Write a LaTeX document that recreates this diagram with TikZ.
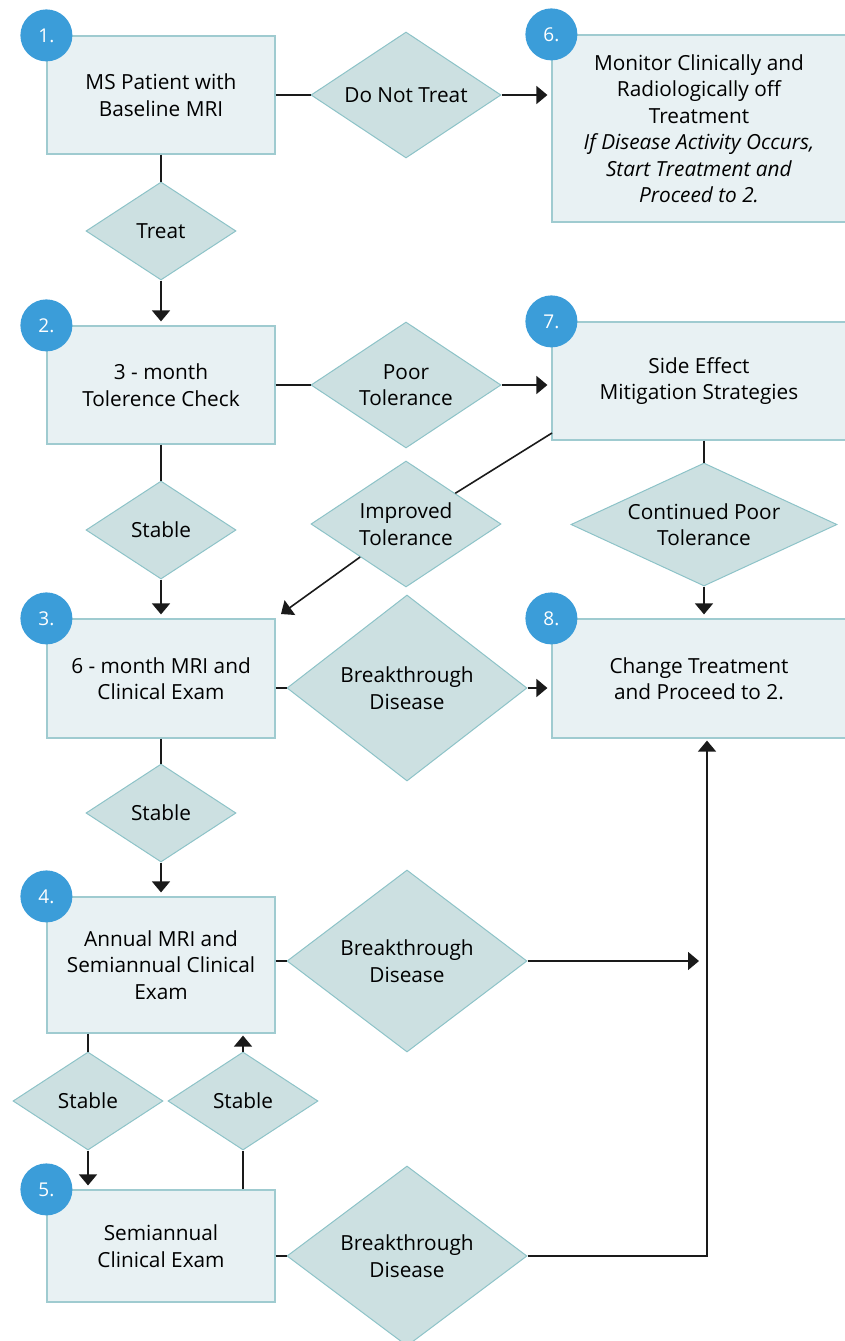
\documentclass[tikz,border=0pt]{standalone}
\usepackage{fontspec}
\setmainfont{Open Sans}
\usetikzlibrary{shapes.geometric,arrows.meta}
\definecolor{boxfill}{HTML}{E8F1F3}
\definecolor{boxline}{HTML}{9FCBD0}
\definecolor{dfill}{HTML}{CCE0E1}
\definecolor{dline}{HTML}{8DC3C8}
\definecolor{numblue}{HTML}{3B9DD9}
\definecolor{lncol}{HTML}{1A1A1A}
\tikzset{
  txt/.style={font=\fontsize{20.8}{26.5}\selectfont, align=center},
  stepbox/.style={rectangle, draw=boxline, fill=boxfill, line width=1.2pt, inner sep=0pt, minimum width=228pt, txt},
  num/.style={circle, fill=numblue, draw=none, minimum size=52pt, inner sep=0pt, text=white, font=\fontsize{19}{22}\selectfont},
  dia/.style={diamond, draw=dline, fill=dfill, line width=1pt, inner sep=0pt},
  dlab/.style={txt},
  ln/.style={draw=lncol, line width=1.6pt},
  arr/.style={ln, -{Triangle[width=18pt,length=11pt]}, shorten >=4pt},
}
\begin{document}
\begin{tikzpicture}[x=1pt,y=-1pt]
\useasboundingbox (0,0) rectangle (845,1341);
% boxes
\node[stepbox, minimum height=118pt] (b1) at (161,95) {MS Patient with\\Baseline MRI};
\node[stepbox, minimum height=118pt] (b2) at (161,385) {3 - month\\Tolerence Check};
\node[stepbox, minimum height=119pt] (b3) at (161,678.5) {6 - month MRI and\\Clinical Exam};
\node[stepbox, minimum height=136pt] (b4) at (161,965) {Annual MRI and\\Semiannual Clinical\\Exam};
\node[stepbox, minimum height=112pt] (b5) at (161,1246) {Semiannual\\Clinical Exam};
\node[stepbox, minimum width=294pt, minimum height=187pt] (b6) at (699,128.5) {Monitor Clinically and\\Radiologically off\\Treatment\\\textit{If Disease Activity Occurs,}\\\textit{Start Treatment and}\\\textit{Proceed to 2.}};
\node[stepbox, minimum width=294pt, minimum height=118pt] (b7) at (699,381) {Side Effect\\Mitigation Strategies};
\node[stepbox, minimum width=294pt, minimum height=119pt] (b8) at (699,678.5) {Change Treatment\\and Proceed to 2.};
% diamonds
\node[dia, minimum width=150pt, minimum height=98pt, label={[dlab]center:Treat}] (treat) at (161,231) {};
\node[dia, minimum width=190pt, minimum height=126pt, label={[dlab]center:Do Not Treat}] (dnt) at (406,95) {};
\node[dia, minimum width=190pt, minimum height=126pt, label={[dlab]center:Poor\\Tolerance}] (pt) at (406,385) {};
\node[dia, minimum width=150pt, minimum height=98pt, label={[dlab]center:Stable}] (s23) at (161,530) {};
\node[dia, minimum width=190pt, minimum height=126pt, label={[dlab]center:Improved\\Tolerance}] (imp) at (406,524) {};
\node[dia, minimum width=266pt, minimum height=123pt, label={[dlab]center:Continued Poor\\Tolerance}] (cpt) at (704,524.5) {};
\node[dia, minimum width=240pt, minimum height=186pt, label={[dlab]center:Breakthrough\\Disease}] (bt3) at (407,688) {};
\node[dia, minimum width=150pt, minimum height=98pt, label={[dlab]center:Stable}] (s34) at (161,813) {};
\node[dia, minimum width=240pt, minimum height=182pt, label={[dlab]center:Breakthrough\\Disease}] (bt4) at (407,961) {};
\node[dia, minimum width=150pt, minimum height=98pt, label={[dlab]center:Stable}] (sl) at (88,1101) {};
\node[dia, minimum width=150pt, minimum height=98pt, label={[dlab]center:Stable}] (sr) at (243,1101) {};
\node[dia, minimum width=240pt, minimum height=180pt, label={[dlab]center:Breakthrough\\Disease}] (bt5) at (407,1256) {};
% number circles
\node[num] (n1) at (b1.north west) {1.};
\node[num] (n2) at (b2.north west) {2.};
\node[num] (n3) at (b3.north west) {3.};
\node[num] (n4) at (b4.north west) {4.};
\node[num] (n5) at (b5.north west) {5.};
\node[num] (n6) at (b6.north west) {6.};
\node[num] (n7) at (b7.north west) {7.};
\node[num] (n8) at (b8.north west) {8.};
% free ends
\coordinate (c7) at (552,433);
\coordinate (c3) at (281,614);
\coordinate (a4) at (703,961);
\coordinate (j5) at (707,1256);
% connectors
\draw[ln] (b1.east |- dnt.west) -- (dnt.west);
\draw[arr] (dnt.east) -- (dnt.east -| b6.west);
\draw[ln] (b1.south) -- (treat.north);
\draw[arr] (treat.south) -- (b2.north);
\draw[ln] (b2.east |- pt.west) -- (pt.west);
\draw[arr] (pt.east) -- (pt.east -| b7.west);
\draw[ln] (c7) -- (imp);
\draw[arr, shorten >=0pt] (imp) -- (c3);
\draw[ln] (cpt.north |- b7.south) -- (cpt.north);
\draw[arr] (cpt.south) -- (cpt.south |- b8.north);
\draw[ln] (b2.south) -- (s23.north);
\draw[arr] (s23.south) -- (b3.north);
\draw[ln] (bt3.west -| b3.east) -- (bt3.west);
\draw[arr] (bt3.east) -- (bt3.east -| b8.west);
\draw[ln] (b3.south) -- (s34.north);
\draw[arr] (s34.south) -- (b4.north);
\draw[ln] (bt4.west -| b4.east) -- (bt4.west);
\draw[arr] (bt4.east) -- (a4);
\draw[ln] (sl.north |- b4.south) -- (sl.north);
\draw[arr] (sl.south) -- (sl.south |- b5.north);
\draw[ln] (sr.south |- b5.north) -- (sr.south);
\draw[arr, shorten >=2pt] (sr.north) -- (sr.north |- b4.south);
\draw[ln] (bt5.west -| b5.east) -- (bt5.west);
\draw[arr, shorten >=2pt] (bt5.east) -- (j5) -- (j5 |- b8.south);
\end{tikzpicture}
\end{document}
